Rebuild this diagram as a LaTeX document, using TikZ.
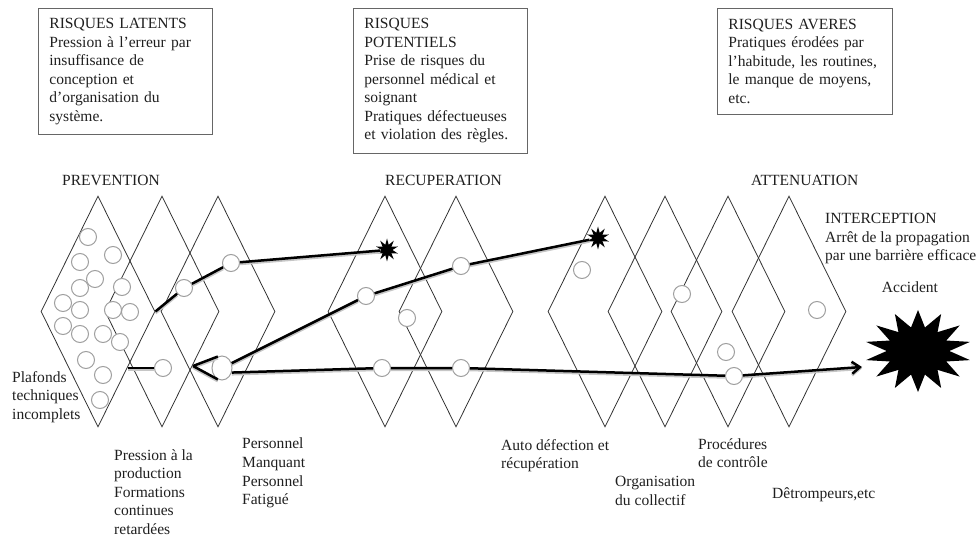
\documentclass[tikz,border=0pt]{standalone}
\usepackage{fontspec}
\setmainfont{Liberation Serif}
\usetikzlibrary{shapes.geometric,arrows.meta}
\tikzset{
	barrier/.style={diamond, draw=black!80, line width=0.8bp, minimum width=114bp, minimum height=231bp, inner sep=0pt},
	hole/.style={circle, draw=gray!75, line width=1bp, fill=white, minimum size=17bp, inner sep=0pt},
	bighole/.style={hole, ellipse, minimum width=20bp, minimum height=24bp},
	spark/.style={star, star points=10, star point ratio=2.1, fill=black, minimum size=23bp, inner sep=0pt},
	flow/.style={line width=2.5bp, black, preaction={draw=gray!45, line width=3bp, transform canvas={yshift=-1.5bp}}},
	riskbox/.style={draw=gray!80!black, line width=0.8bp, align=left, anchor=north west, inner xsep=11bp, inner ysep=10bp, text width=152bp},
	lbl/.style={align=left, anchor=north west, inner sep=0pt}
}
\begin{document}
\begin{tikzpicture}[x=1bp, y=-1bp, font=\fontsize{15.6}{18.6}\selectfont, text=black!88]
	\useasboundingbox (0,0) rectangle (977,536);
	% barrieres
	\foreach \cx [count=\i] in {98,162,218,385,456,605,665,728,789}
		\node[barrier] (b\i) at (\cx,311.5) {};
	% trous des barrieres
	\foreach \p [count=\k] in {(88,237),(113,255),(80,262),(95,279),(80,288),(122,287),(63,303),(80,310),(113,310),(130,312),(63,326),(80,334),(103,334),(120,342),(86,360),(103,375),(100,400),(407,318),(582,270),(682,294),(817,310),(726,352)}
		\node[hole] (o\k) at \p {};
	\node[hole] (h1) at (184,288) {};
	\node[hole] (h2) at (231,263) {};
	\node[bighole] (h3) at (222,368) {};
	\node[hole] (h4) at (366,296) {};
	\node[hole] (h5) at (461,266) {};
	\node[hole] (h6) at (163,368) {};
	\node[hole] (h7) at (382,368) {};
	\node[hole] (h8) at (461,368) {};
	\node[hole] (h9) at (734,376) {};
	\node[spark] (s1) at (387,250) {};
	\node[spark] (s2) at (598,238) {};
	\node[star, star points=14, star point ratio=1.7, fill=black, minimum size=82bp, inner sep=0pt, xscale=1.3] (accident) at (918,351) {};
	\coordinate (c0) at (128,368);
	\coordinate (fan) at (193,366);
	\coordinate (impact) at (862,367);
	% trajectoires
	\draw[flow] (b1.east) -- (h1) -- (h2) -- (s1);
	\draw[flow] (c0) -- (h6);
	\draw[flow] (fan) -- (h3.110) (fan) -- (h3.250);
	\draw[flow] (h3) -- (h4) -- (h5) -- (s2);
	\draw[flow,-{Straight Barb[length=8bp,width=12bp]}] (h3.-25) -- (h7) -- (h8) -- (h9) -- (impact);
	% textes
	\node[riskbox, minimum height=125bp] (latents) at (38,8) {RISQUES LATENTS\\Pression à l’erreur par\\insuffisance de\\conception et\\d’organisation du\\système.};
	\node[riskbox, minimum height=144bp] (potentiels) at (353,8) {RISQUES\\POTENTIELS\\Prise de risques du\\personnel médical et\\soignant\\Pratiques défectueuses\\et violation des règles.};
	\node[riskbox, minimum height=106bp, text width=153bp] (averes) at (717,8) {RISQUES AVERES\\Pratiques érodées par\\l’habitude, les routines,\\le manque de moyens,\\etc.};
	\node[lbl] (prevention) at (62,175) {PREVENTION};
	\node[lbl] (recuperation) at (385,175) {RECUPERATION};
	\node[lbl] (attenuation) at (751,175) {ATTENUATION};
	\node[lbl] (interception) at (825,213) {INTERCEPTION\\Arrêt de la propagation\\par une barrière efficace};
	\node[anchor=base, inner sep=0pt] (acclbl) at (910,293) {Accident};
	\node[lbl] (plafonds) at (12,371) {Plafonds\\techniques\\incomplets};
	\node[lbl] (pression) at (114,449) {Pression à la\\production\\Formations\\continues\\retardées};
	\node[lbl] (personnel) at (242,438) {Personnel\\Manquant\\Personnel\\Fatigué};
	\node[lbl] (auto) at (501,439) {Auto défection et\\récupération};
	\node[lbl] (organisation) at (615,476) {Organisation\\du collectif};
	\node[lbl] (controle) at (698,438) {Procédures\\de contrôle};
	\node[lbl] (detrompeurs) at (772,487) {Dêtrompeurs,etc};
\end{tikzpicture}
\end{document}
